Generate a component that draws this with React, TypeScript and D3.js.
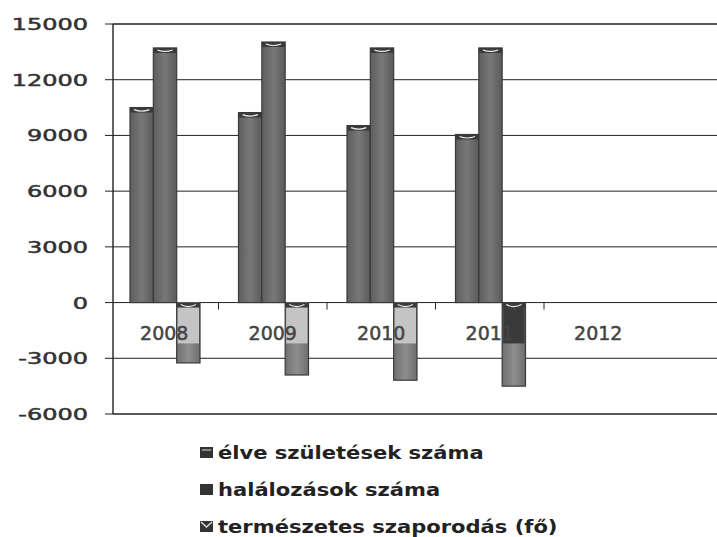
import * as d3 from 'd3'

const WIDTH = 717
const HEIGHT = 537
const YEARS = ['2008', '2009', '2010', '2011', '2012']
const SERIES = ['élve születések száma', 'halálozások száma', 'természetes szaporodás (fő)']
// values, 2012 has no data
const BIRTHS = [10500, 10230, 9530, 9050]
const DEATHS = [13710, 14030, 13710, 13710]
const NATURAL = [-3250, -3900, -4180, -4500]
const Y_TICKS = [15000, 12000, 9000, 6000, 3000, 0, -3000, -6000]
// the scanned negative bars are pale near the zero line (dark for the last one)
const NEG_UPPER = ['#c4c4c4', '#c4c4c4', '#c4c4c4', '#3a3a3a']

const AXIS_X = 113
const BAND = 108.5

export default function App() {
  const x = d3
    .scaleBand<string>()
    .domain(YEARS)
    .range([110, 110 + BAND * YEARS.length])
  const inner = d3.scaleBand<number>().domain([0, 1, 2]).range([20, 90])
  const y = d3.scaleLinear().domain([-6000, 15000]).range([414, 24])

  const series = [BIRTHS, DEATHS, NATURAL]
  const bars: any[] = []
  series.forEach((vals, s) => {
    vals.forEach((v, i) => {
      const x0 = (x(YEARS[i]) ?? 0) + (inner(s) ?? 0)
      const w = inner.bandwidth()
      const top = y(Math.max(0, v))
      const bottom = y(Math.min(0, v))
      const neg = v < 0
      bars.push(
        <g key={`${s}-${i}`}>
          <rect
            x={x0}
            y={top}
            width={w}
            height={bottom - top}
            fill={neg ? 'url(#gNeg)' : 'url(#gPos)'}
            stroke="#3a3a3a"
            strokeWidth={1.2}
          />
          {neg ? (
            <g>
              <rect
                x={x0 + 1}
                y={top}
                width={w - 2}
                height={y(-2200) - top}
                fill={NEG_UPPER[i]}
              />
              <rect x={x0} y={top} width={w} height={5} fill="#3a3a3a" />
              <path
                d={`M${x0 + 4},${top + 2} Q${x0 + w / 2},${top + 6} ${x0 + w - 4},${top + 2}`}
                stroke="#e8e8e8"
                strokeWidth={1.2}
                fill="none"
              />
            </g>
          ) : (
            <g>
              <rect x={x0} y={top} width={w} height={5} fill="#3a3a3a" />
              <path
                d={`M${x0 + 4},${top + 2} Q${x0 + w / 2},${top + 5} ${x0 + w - 4},${top + 2}`}
                stroke="#e8e8e8"
                strokeWidth={1.2}
                fill="none"
              />
            </g>
          )}
        </g>
      )
    })
  })

  return (
    <svg
      width={WIDTH}
      height={HEIGHT}
      style={{ position: 'absolute', left: 0, top: 0, background: '#fff' }}
      fontFamily="DejaVu Sans"
    >
      <defs>
        <linearGradient id="gPos" x1="0" x2="1" y1="0" y2="0">
          <stop offset="0" stopColor="#5e5e5e" />
          <stop offset="0.5" stopColor="#787878" />
          <stop offset="1" stopColor="#5a5a5a" />
        </linearGradient>
        <linearGradient id="gNeg" x1="0" x2="1" y1="0" y2="0">
          <stop offset="0" stopColor="#707070" />
          <stop offset="0.5" stopColor="#8e8e8e" />
          <stop offset="1" stopColor="#6e6e6e" />
        </linearGradient>
      </defs>

      {/* gridlines */}
      {Y_TICKS.map((t) => (
        <g key={t}>
          <line x1={AXIS_X} x2={WIDTH} y1={y(t)} y2={y(t)} stroke="#222" strokeWidth={t === 15000 || t === -6000 ? 1.6 : 1} />
          <line x1={AXIS_X - 8} x2={AXIS_X} y1={y(t)} y2={y(t)} stroke="#222" />
          <text
            transform={`translate(88,${y(t) + 6}) scale(1.5,1)`}
            textAnchor="end"
            fontSize={16}
            fill="#333"
            stroke="#333"
            strokeWidth={0.5}
          >
            {t}
          </text>
        </g>
      ))}
      <line x1={AXIS_X} x2={AXIS_X} y1={y(15000)} y2={y(-6000)} stroke="#222" strokeWidth={1.4} />

      {/* category ticks on the zero line */}
      {YEARS.slice(1).map((c) => (
        <line key={c} x1={x(c)} x2={x(c)} y1={y(0)} y2={y(0) + 7} stroke="#222" />
      ))}

      {bars}

      {YEARS.map((c) => (
        <text
          key={c}
          x={(x(c) ?? 0) + x.bandwidth() / 2}
          y={340}
          textAnchor="middle"
          fontSize={19}
          fill="#444"
          stroke="#444"
          strokeWidth={0.5}
        >
          {c}
        </text>
      ))}

      {/* legend */}
      {SERIES.map((name, i) => (
        <g key={name} transform={`translate(200,${453 + i * 37})`}>
          <rect x={0} y={-6} width={13} height={11} fill="#333" />
          {i === 0 && <rect x={2} y={-4} width={9} height={2} fill="#888" />}
          {i === 2 && <path d="M1,-5 L6.5,0 L12,-5" stroke="#ddd" strokeWidth={1.4} fill="none" />}
          <text
            transform={`translate(18,6) scale(1.17,1)`}
            fontSize={18}
            fontWeight="bold"
            fill="#222"
          >
            {name}
          </text>
        </g>
      ))}
    </svg>
  )
}
